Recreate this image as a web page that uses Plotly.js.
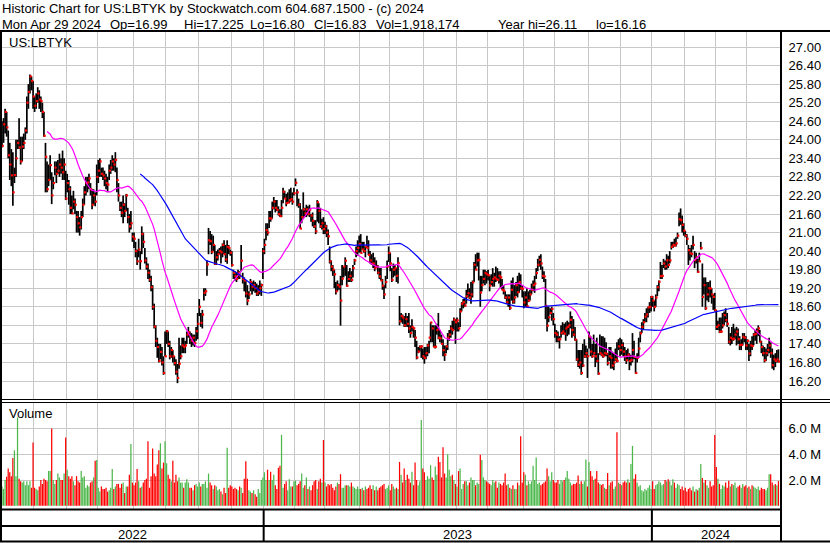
<!DOCTYPE html>
<html><head><meta charset="utf-8">
<script src="https://cdn.plot.ly/plotly-3.0.1.min.js"></script>
<style>html,body{margin:0;padding:0;background:#fff;}#chart{width:830px;height:543px;}</style>
</head><body><div id="chart"></div>
<script>
// ---- data (daily bars, May 2022 - Apr 29 2024) ----
const highs = [
24.6,24.7,25.0,24.9,24.3,23.9,23.7,23.6,23.1,24.0,
24.0,24.7,24.1,24.1,24.2,24.4,25.4,25.8,26.11,26.05,
25.9,25.4,25.5,25.7,25.6,25.4,25.2,24.9,23.9,23.3,
23.2,23.5,22.95,22.8,23.3,23.3,23.35,23.55,23.4,23.65,
23.4,23.0,22.9,22.7,22.5,22.2,22.35,22.1,21.7,21.7,
21.5,21.7,22.1,22.5,22.8,22.8,22.9,22.6,22.4,22.4,
22.3,23.2,23.35,23.4,23.1,23.1,23.0,22.9,22.8,23.2,
23.35,23.5,23.4,23.6,23.1,22.6,22.0,22.0,22.2,21.95,
22.25,21.8,21.6,21.7,21.0,21.0,20.7,20.45,20.8,20.4,
21.2,21.0,20.5,20.2,20.0,19.8,19.6,19.3,18.7,18.0,
17.6,17.4,17.4,17.3,17.0,17.8,17.85,17.8,17.5,17.3,
17.2,17.0,16.9,16.75,17.6,17.35,17.6,17.6,17.5,17.8,
17.95,17.8,17.75,17.7,17.7,17.95,18.4,18.85,18.4,18.5,
19.2,19.2,20.1,21.15,21.05,20.95,20.9,20.6,20.4,20.45,
20.5,20.55,20.65,20.75,20.6,20.75,20.6,20.45,20.4,19.8,
19.75,19.7,19.8,19.75,20.6,19.7,19.55,19.45,19.3,19.1,
19.5,19.4,19.45,19.4,19.35,19.3,19.45,19.35,20.5,20.8,
21.3,21.3,21.7,21.7,22.0,22.15,22.05,22.05,21.85,21.75,
22.05,22.45,22.35,22.25,22.3,22.4,22.45,22.3,22.45,22.75,
22.4,22.1,21.95,21.75,22.3,21.8,21.9,21.85,21.9,21.6,
21.65,21.4,21.4,22.05,21.95,21.8,21.45,21.5,21.35,21.25,
21.1,20.55,20.1,19.95,19.8,19.4,19.45,19.35,19.6,19.95,
19.9,20.2,19.95,19.75,19.85,19.75,19.95,20.15,20.55,20.75,
20.9,20.95,20.7,20.7,20.55,20.9,20.75,20.4,20.3,20.35,
20.2,20.1,19.95,19.85,19.85,19.5,19.3,19.6,20.1,20.55,
20.35,19.85,20.0,19.95,19.85,20.2,18.95,18.4,18.35,18.3,
18.4,18.3,18.4,18.0,18.2,17.95,17.85,17.5,17.3,17.35,
17.35,17.25,17.3,17.3,17.4,17.5,18.1,18.0,18.0,18.0,
18.05,18.4,17.85,17.7,17.55,17.35,17.35,17.75,17.85,18.0,
18.15,18.25,18.2,18.25,18.1,18.55,18.75,18.85,18.9,19.15,
19.35,19.2,19.4,19.45,20.05,20.3,20.35,20.35,19.6,19.6,
19.8,19.8,19.75,19.8,19.6,19.65,19.85,19.7,19.9,19.85,
19.75,19.75,19.5,19.3,19.1,19.0,19.0,19.0,19.45,19.55,
19.3,19.4,19.6,19.7,19.65,19.3,19.1,19.1,19.2,19.1,
19.15,19.35,19.45,19.6,19.85,20.15,20.25,20.3,19.9,19.75,
19.5,18.6,18.6,18.55,18.6,18.4,18.05,17.85,17.8,17.65,
18.0,18.1,18.05,18.1,18.15,18.1,18.45,18.3,18.2,17.95,
17.55,17.2,17.2,17.2,17.4,17.55,17.35,17.25,17.8,17.65,
17.4,17.7,17.4,17.6,17.1,17.7,17.65,17.65,17.6,17.45,
17.1,17.3,17.3,17.15,17.1,17.25,17.45,17.55,17.6,17.55,
17.45,17.3,17.2,17.25,17.1,17.05,17.75,17.5,16.95,17.1,
17.6,17.8,18.1,18.2,18.4,18.55,18.6,18.75,18.95,18.95,
18.8,19.0,19.3,19.45,20.05,19.95,20.15,20.1,20.3,20.25,
20.4,20.7,20.7,20.8,20.85,21.0,21.65,21.78,21.55,21.3,
21.05,20.95,20.6,20.5,20.6,20.9,20.4,20.35,20.15,20.35,
20.7,20.0,19.55,19.55,19.4,19.4,19.45,19.2,19.0,19.05,
18.5,18.15,18.25,18.25,18.4,18.45,18.55,18.4,17.95,17.75,
17.95,18.05,17.9,17.95,17.9,17.65,17.55,17.75,17.75,17.65,
17.55,17.4,17.5,17.65,17.75,17.85,17.9,18.0,17.85,17.5,
17.35,17.3,17.25,17.4,17.6,17.45,17.25,17.05,17.1,17.2,
17.225];
const lows = [
23.75,23.9,24.2,24.1,23.4,22.7,22.5,21.87,22.6,22.8,
23.7,23.7,23.2,23.3,23.7,24.0,24.2,25.0,25.5,25.6,
25.0,24.9,25.0,25.2,25.0,24.9,24.7,24.1,22.3,22.3,
22.5,22.7,21.92,22.4,22.85,22.6,22.9,22.8,22.9,22.7,
22.7,22.05,22.3,21.9,21.6,21.6,21.75,21.6,21.0,21.0,
20.9,21.1,21.5,21.9,22.2,22.3,22.4,22.2,21.75,21.9,
21.85,22.2,22.6,22.8,22.8,22.7,22.5,22.4,22.3,22.7,
22.9,23.0,23.0,22.95,22.3,22.0,21.7,21.5,21.3,21.5,
21.7,21.3,21.0,21.1,20.7,20.5,20.2,19.95,20.2,19.8,
20.3,20.5,20.0,19.8,19.5,19.4,19.1,18.5,17.9,17.3,
16.95,16.8,16.9,16.7,16.4,17.0,17.4,17.3,16.9,16.95,
16.8,16.7,16.4,16.13,16.6,16.9,17.1,17.1,17.1,17.4,
17.6,17.4,17.3,17.35,17.3,17.5,17.55,18.3,17.95,17.9,
18.8,18.95,19.6,20.3,20.6,20.3,20.4,19.95,19.95,20.1,
20.3,20.0,20.2,20.3,20.05,19.99,20.3,20.25,19.9,19.5,
19.45,19.4,19.5,19.5,19.75,19.35,19.1,18.9,18.65,18.85,
19.1,19.0,19.1,19.05,18.95,18.95,19.0,18.95,19.5,20.3,
20.75,20.9,21.15,21.35,21.45,21.75,21.65,21.7,21.55,21.5,
21.5,21.95,22.1,21.85,21.95,21.95,22.0,21.9,22.2,22.5,
21.85,21.8,21.13,21.3,21.45,21.5,21.5,21.55,21.5,21.35,
21.2,21.15,20.95,21.35,21.3,21.15,21.1,20.95,20.95,20.85,
20.6,20.0,19.75,19.6,19.2,19.0,19.1,19.15,17.99,19.3,
19.55,19.6,19.25,19.4,19.4,19.4,19.55,19.95,20.2,20.25,
20.35,20.35,20.45,20.35,20.2,20.5,20.27,20.0,19.95,19.85,
19.75,19.85,19.65,19.5,19.45,19.15,18.85,19.2,19.5,20.05,
19.75,19.4,19.55,19.6,19.4,19.35,18.0,18.1,18.05,17.95,
17.95,17.95,17.75,17.6,17.8,17.6,17.3,16.9,17.1,17.15,
16.95,16.9,16.76,16.9,17.0,17.1,17.45,17.45,17.3,17.25,
17.7,17.55,17.45,17.4,17.0,16.85,17.1,17.2,17.5,17.6,
17.7,17.85,17.4,17.8,17.8,17.95,18.45,18.55,18.6,18.7,
18.9,18.85,18.7,18.9,19.4,19.8,19.9,19.45,18.6,19.1,
19.35,19.3,19.35,19.45,19.1,19.3,19.25,19.25,19.4,19.45,
19.35,19.2,19.15,19.0,18.85,18.7,18.6,18.5,18.8,18.7,
18.7,18.95,18.9,19.05,19.15,18.9,18.55,18.6,18.6,18.75,
18.8,19.0,19.1,19.05,19.5,19.75,19.9,19.8,19.5,19.4,
18.2,17.8,18.1,18.35,18.15,18.0,17.6,17.45,17.45,17.25,
17.6,17.7,17.7,17.5,17.65,17.7,17.9,17.6,17.65,17.5,
16.85,16.65,16.6,16.4,16.65,16.95,16.95,16.3,17.25,17.0,
16.95,17.05,16.65,16.8,16.4,17.05,17.0,16.95,17.0,17.0,
16.7,16.85,16.6,16.6,16.55,16.85,16.8,17.2,17.0,17.05,
17.0,16.85,16.75,16.85,16.55,16.7,16.8,16.9,16.44,16.8,
16.95,17.45,17.75,17.85,18.1,18.1,18.25,18.4,18.45,18.6,
18.45,18.6,18.95,19.1,19.5,19.5,19.85,19.8,19.8,19.85,
20.0,20.45,20.5,20.55,20.55,20.8,21.2,21.25,21.0,20.9,
20.85,20.6,19.95,20.1,20.2,20.45,19.85,20.0,19.7,20.05,
20.45,18.6,19.0,18.5,18.8,18.75,18.9,18.7,18.5,18.45,
17.85,17.85,17.75,17.75,17.9,18.0,18.1,17.95,17.4,17.35,
17.4,17.5,17.55,17.35,17.4,17.2,17.2,17.35,17.45,17.2,
17.2,16.85,17.0,17.2,17.35,17.5,17.4,17.65,17.45,17.1,
17.0,16.8,16.85,17.0,17.1,16.95,16.6,16.55,16.65,16.8,
16.80];
const closes = [
23.80,24.50,24.90,24.40,23.50,23.20,22.85,22.30,22.86,23.40,
23.90,23.75,23.30,23.78,23.90,24.30,25.20,25.55,26.05,25.90,
25.40,25.10,25.25,25.50,25.30,25.25,24.90,24.13,23.45,22.40,
22.70,23.18,22.20,22.60,23.10,22.90,23.00,23.20,23.10,22.95,
23.20,22.10,22.60,22.40,21.80,21.62,22.00,21.90,21.50,21.30,
21.17,21.50,21.90,22.30,22.60,22.62,22.75,22.40,21.90,22.20,
22.00,22.80,23.00,23.30,22.90,22.85,22.75,22.60,22.55,23.00,
23.10,23.30,23.20,23.35,22.70,22.20,21.80,21.64,21.90,21.70,
22.20,21.50,21.20,21.30,20.87,20.80,20.40,20.07,20.45,20.07,
20.95,20.70,20.10,19.90,19.70,19.48,19.23,18.60,17.96,17.50,
17.30,16.85,17.14,16.80,16.46,17.00,17.81,17.40,17.00,17.20,
17.00,16.78,16.50,16.30,16.76,17.00,17.35,17.30,17.35,17.70,
17.78,17.60,17.50,17.60,17.43,17.81,18.05,18.60,18.08,18.35,
19.05,19.10,19.97,20.75,20.72,20.38,20.60,19.99,20.20,20.30,
20.40,20.36,20.60,20.30,20.13,20.54,20.50,20.35,19.95,19.70,
19.59,19.50,19.70,19.60,20.09,19.50,19.45,19.03,18.80,19.00,
19.40,19.25,19.30,19.20,19.03,19.10,19.20,19.30,20.40,20.60,
21.08,21.00,21.46,21.45,21.80,22.00,21.80,21.73,21.60,21.53,
21.80,22.32,22.10,21.95,21.97,22.05,22.08,22.00,22.27,22.61,
22.30,21.90,21.13,21.50,21.75,21.62,21.75,21.60,21.74,21.55,
21.38,21.20,21.04,21.98,21.70,21.20,21.30,21.11,21.20,21.00,
20.88,20.07,19.90,19.80,19.65,19.10,19.30,19.25,18.80,19.51,
19.90,20.09,19.28,19.50,19.60,19.47,19.85,20.10,20.40,20.50,
20.63,20.34,20.45,20.40,20.55,20.50,20.28,20.10,19.99,20.00,
19.85,19.90,19.70,19.58,19.45,19.28,19.00,19.40,19.90,20.34,
20.00,19.47,19.80,19.85,19.60,20.01,18.13,18.30,18.25,18.00,
18.20,18.05,17.90,17.75,17.95,17.90,17.60,16.96,17.15,17.30,
17.32,17.00,16.95,17.10,17.35,17.60,18.09,17.90,17.30,17.31,
17.85,17.60,17.58,17.40,17.20,17.05,17.32,17.60,17.70,17.90,
17.85,18.18,18.10,18.16,17.90,18.45,18.70,18.75,18.64,18.94,
19.04,18.90,19.00,19.39,19.96,19.80,20.10,20.12,19.06,19.30,
19.50,19.69,19.65,19.62,19.29,19.40,19.50,19.55,19.50,19.47,
19.60,19.55,19.15,19.12,18.90,18.75,18.90,18.56,19.15,18.77,
18.90,19.30,19.07,19.40,19.20,19.18,18.74,18.90,18.62,18.80,
19.00,19.15,19.30,19.35,19.69,19.96,20.12,20.00,19.60,19.58,
18.63,17.99,18.26,18.40,18.53,18.20,17.75,17.70,17.54,17.55,
17.75,17.80,17.73,17.90,17.95,18.00,18.18,17.85,17.70,17.54,
16.90,16.73,16.80,16.46,16.70,17.00,17.10,17.00,17.64,17.15,
17.00,17.10,17.00,16.85,16.44,17.10,17.05,17.00,17.10,17.08,
16.78,17.00,16.95,16.70,16.80,16.90,16.85,17.32,17.20,17.36,
17.15,17.00,16.87,17.05,16.85,16.88,17.20,16.98,16.46,16.95,
17.25,17.74,17.95,18.10,18.28,18.35,18.58,18.60,18.92,18.80,
18.60,18.90,19.23,19.41,19.59,19.60,20.00,19.90,20.10,19.95,
20.10,20.54,20.60,20.58,20.65,20.90,21.43,21.40,21.25,21.06,
20.90,20.80,20.43,20.33,20.31,20.60,20.11,20.20,19.73,20.07,
20.50,18.92,19.30,18.55,19.00,19.20,19.19,19.00,18.92,18.49,
17.95,18.00,17.79,17.80,18.00,18.33,18.17,18.05,17.47,17.60,
17.55,17.57,17.70,17.80,17.55,17.36,17.37,17.63,17.60,17.35,
17.50,17.09,17.35,17.33,17.70,17.72,17.81,17.90,17.47,17.30,
17.10,16.87,17.10,17.20,17.35,17.10,16.71,16.90,16.85,16.90,
16.83];
const volumes = [ // millions of shares
1.5,1.3,2.0,2.25,2.9,2.6,2.3,3.7,4.3,2.3,
6.85,2.1,1.9,1.8,1.9,1.6,1.9,1.6,1.9,1.4,
4.9,1.4,1.3,1.2,1.5,2.0,1.7,2.1,2.0,1.9,
2.7,2.7,6.0,2.0,1.7,2.0,2.5,2.2,2.0,2.0,
2.5,5.3,2.8,2.3,2.1,2.3,1.9,1.6,2.3,1.9,
1.8,2.7,2.2,2.3,1.4,1.6,1.5,1.8,1.9,2.2,
3.5,3.55,1.4,1.1,1.5,1.3,1.3,1.4,1.1,1.2,
1.4,2.85,1.3,1.5,1.7,1.7,1.4,1.7,1.8,1.0,
1.5,1.5,2.4,4.8,1.8,1.6,1.8,2.85,1.9,1.4,
1.5,1.8,2.0,2.1,5.0,1.4,2.3,4.45,2.5,2.3,
3.2,4.3,4.85,2.9,3.35,5.0,3.3,2.4,2.1,1.9,
3.5,1.8,2.4,1.9,2.2,1.8,1.8,1.4,1.8,2.05,
1.8,1.4,1.4,1.2,1.6,1.7,1.5,1.8,1.5,1.7,
1.7,1.9,1.4,2.5,1.8,1.6,1.3,1.6,1.5,1.2,
1.3,1.1,0.9,1.4,1.0,4.5,1.4,1.6,1.5,1.3,
1.4,1.3,1.2,1.5,1.4,1.0,2.1,3.45,2.1,1.2,
1.1,1.0,1.2,0.9,0.7,1.3,1.0,2.0,2.2,2.6,
2.0,2.8,2.0,2.65,2.0,2.4,1.6,1.3,2.95,3.1,
5.5,1.4,1.7,1.9,1.2,2.05,1.5,1.5,1.9,1.95,
1.6,1.7,1.9,2.5,1.4,1.6,2.2,1.3,1.5,1.2,
1.6,1.9,2.0,1.3,1.9,2.1,1.8,5.1,1.8,1.5,
1.7,1.6,1.7,1.4,1.2,1.5,1.8,1.7,2.45,1.4,
1.4,1.6,1.6,1.6,1.5,1.8,1.5,1.4,1.3,1.5,
1.3,1.3,1.4,1.2,1.5,1.3,1.4,1.6,1.3,1.6,
1.2,1.5,1.2,1.4,1.5,1.6,1.7,1.3,1.4,1.6,
1.2,1.7,1.5,1.3,1.4,1.3,3.4,2.4,1.8,2.9,
2.0,2.4,2.1,1.8,2.65,1.6,3.35,2.0,1.6,1.9,
6.65,2.9,2.6,2.0,2.3,2.1,3.15,2.2,2.0,3.05,
2.4,3.8,3.4,2.2,4.55,2.5,2.2,4.0,2.8,2.3,
2.4,2.0,1.7,1.5,2.7,2.9,1.3,1.7,1.9,1.9,
1.6,1.8,2.2,2.0,2.0,1.6,1.8,1.7,3.95,3.55,
2.2,2.0,1.9,1.8,1.7,1.6,2.0,1.8,1.9,1.4,
1.8,1.7,1.6,1.8,2.5,1.6,1.7,1.4,1.3,1.6,
1.3,1.3,1.8,1.6,5.4,1.8,2.6,2.4,1.6,1.9,
1.7,1.9,3.1,2.0,3.75,1.7,1.8,1.6,1.7,1.8,
1.9,2.9,2.3,1.9,2.6,2.0,1.8,1.8,2.0,1.7,
2.0,1.9,2.0,2.2,2.7,2.1,1.8,1.6,1.7,1.7,
1.8,2.35,1.7,1.9,1.7,1.9,3.6,1.5,3.4,2.7,
2.3,2.0,2.1,2.7,1.8,1.7,1.6,1.7,1.4,1.3,
2.55,1.6,1.8,1.9,1.3,1.5,5.7,1.8,1.7,1.6,
1.8,1.9,1.8,2.05,1.8,3.25,4.65,2.1,2.45,1.8,
1.5,1.6,1.2,1.1,1.3,1.2,1.4,1.6,1.3,1.9,
1.3,1.6,1.7,1.9,1.8,1.6,1.7,2.0,1.9,2.05,
1.9,1.6,2.05,1.8,1.4,1.7,1.6,1.3,1.5,1.2,
1.4,1.1,1.3,1.4,1.2,1.5,1.1,1.3,1.2,1.4,
3.25,2.15,1.8,2.0,1.6,1.4,1.9,1.5,1.6,5.5,
3.0,2.1,1.7,1.3,1.6,1.5,1.8,1.4,1.95,1.5,
1.7,1.6,1.8,1.4,1.5,1.6,1.4,1.7,1.5,1.6,
1.4,1.5,1.3,1.6,1.5,1.4,1.3,1.5,1.2,1.4,
1.3,1.3,1.2,1.4,2.45,2.45,1.8,1.6,1.7,1.6,
1.92];
const yearLabels = ['2022','2023','2024'];
const yearStarts = [0,169,419];          // index of first trading day of each year
const monthStarts = [0,21,42,62,85,106,127,148,169,189,208,231,250,272,293,313,336,356,378,399,419,440,460,480];
const priceTicks = [16.2,16.8,17.4,18.0,18.6,19.2,19.8,20.4,21.0,21.6,22.2,22.8,23.4,24.0,24.6,25.2,25.8,26.4,27.0];
const volTicks = [2,4,6];
const volTickText = ['2.0 M','4.0 M','6.0 M'];
const maShort = 30, maLong = 90;
const headerTitle = 'Historic Chart for US:LBTYK by Stockwatch.com 604.687.1500 - (c) 2024';
const headerItems = ['Mon Apr 29 2024','Op=16.99','Hi=17.225','Lo=16.80','Cl=16.83','Vol=1,918,174','Year hi=26.11','lo=16.16'];
const symbolLabel = 'US:LBTYK';
const volumeLabel = 'Volume';

// ---- geometry helpers (layout only) ----
const W=830,H=543,M={l:2,r:50,t:32,b:34,pad:0};
const PW=W-M.l-M.r, PH=H-M.t-M.b;
const px=v=>(v-M.l)/PW, py=v=>(H-M.b-v)/PH;
const headerX=[4,112,186,252,316,378,500,598];

const n = closes.length;
const idx = closes.map((_,i)=>i);
function sma(a,w){return a.map((_,i)=>{if(i<w-1)return null;let s=0;for(let k=i-w+1;k<=i;k++)s+=a[k];return s/w;});}

const barX=[],barY=[];
for(let i=0;i<n;i++){barX.push(i,i,null);barY.push(lows[i],highs[i],null);}
const closeX = idx.map(i=>i+0.45);   // close tick drawn on the right side of each bar
const volColors = closes.map((c,i)=> i===0 ? '#4cb84c' : (c>closes[i-1] ? '#4cb84c' : (c<closes[i-1] ? '#ff0000' : '#a8a8a8')));

const traces=[
 {type:'scatter',mode:'lines',x:barX,y:barY,line:{color:'#000',width:1.7},hoverinfo:'skip',xaxis:'x',yaxis:'y'},
 {type:'scatter',mode:'markers',x:closeX,y:closes,marker:{color:'#ff0000',size:2.2,symbol:'square',line:{width:0}},xaxis:'x',yaxis:'y'},
 {type:'scatter',mode:'lines',x:idx,y:sma(closes,maShort),line:{color:'#ff00ff',width:1.2},xaxis:'x',yaxis:'y'},
 {type:'scatter',mode:'lines',x:idx,y:sma(closes,maLong),line:{color:'#0000ff',width:1.2},xaxis:'x',yaxis:'y'},
 {type:'bar',x:idx,y:volumes,width:0.8,marker:{color:volColors,line:{width:0}},xaxis:'x2',yaxis:'y2'}
];

const gridX = monthStarts.map(m=>m-0.5);
const xcommon={range:[0,n],tickvals:gridX,showticklabels:false,ticks:'',showgrid:true,gridcolor:'#c8c8c8',gridwidth:1,zeroline:false,showline:false,fixedrange:true};
const ycommon={side:'right',ticks:'outside',ticklen:5,tickcolor:'rgba(0,0,0,0)',showgrid:true,gridcolor:'#c8c8c8',gridwidth:1,zeroline:false,showline:false,fixedrange:true,tickfont:{size:13,color:'#000'}};

const L=(x0,y0,x1,y1,w)=>({type:'line',xref:'paper',yref:'paper',x0:px(x0),x1:px(x1),y0:py(y0),y1:py(y1),line:{color:'#000',width:w}});
const shapes=[
 L(0,31,830,31,2), L(1,30,1,542,2), L(781,30,781,542,2),
 L(0,399.5,830,399.5,1.2), L(0,402.5,830,402.5,1.2),
 L(0,509.5,781,509.5,2), L(0,526,781,526,2), L(0,541.5,830,541.5,2)
];
yearStarts.slice(1).forEach(s=>shapes.push({type:'line',xref:'x',yref:'paper',x0:s-0.5,x1:s-0.5,y0:py(509),y1:py(541),line:{color:'#000',width:2}}));

const ann=[];
const hdr=(t,x,y)=>({xref:'paper',yref:'paper',x:px(x-2),y:py(y),xanchor:'left',yanchor:'middle',text:t,showarrow:false,borderpad:0,borderwidth:0,font:{size:13,color:'#000'}});
ann.push(hdr(headerTitle,4,8.4));
headerItems.forEach((t,k)=>ann.push(hdr(t,headerX[k],24.2)));
ann.push({xref:'paper',yref:'paper',x:px(7),y:py(42),xanchor:'left',yanchor:'middle',text:symbolLabel,showarrow:false,font:{size:13,color:'#000'}});
ann.push({xref:'paper',yref:'paper',x:px(7),y:py(413),xanchor:'left',yanchor:'middle',text:volumeLabel,showarrow:false,font:{size:13,color:'#000'}});
yearLabels.forEach((t,k)=>{const a=yearStarts[k]-0.5,b=(k+1<yearStarts.length?yearStarts[k+1]-0.5:n);ann.push({xref:'x',yref:'paper',x:(Math.max(a,0)+b)/2,y:py(534),xanchor:'center',yanchor:'middle',text:t,showarrow:false,font:{size:13,color:'#000'}});});

const layout={
 width:W,height:H,margin:M,paper_bgcolor:'#fff',plot_bgcolor:'#fff',showlegend:false,
 font:{family:'Arial, "Liberation Sans", sans-serif',size:13,color:'#000'},
 xaxis:Object.assign({domain:[0,1],anchor:'y'},xcommon),
 xaxis2:Object.assign({domain:[0,1],anchor:'y2'},xcommon),
 yaxis:Object.assign({domain:[py(399),1],range:[15.618,27.485],tickvals:priceTicks,tickformat:'.2f',anchor:'x'},ycommon),
 yaxis2:Object.assign({domain:[0,py(402)],range:[-0.248,8.05],tickvals:volTicks,ticktext:volTickText,anchor:'x2'},ycommon),
 shapes:shapes,annotations:ann,hovermode:false
};
Plotly.newPlot('chart',traces,layout,{staticPlot:true,displayModeBar:false});
</script></body></html>
